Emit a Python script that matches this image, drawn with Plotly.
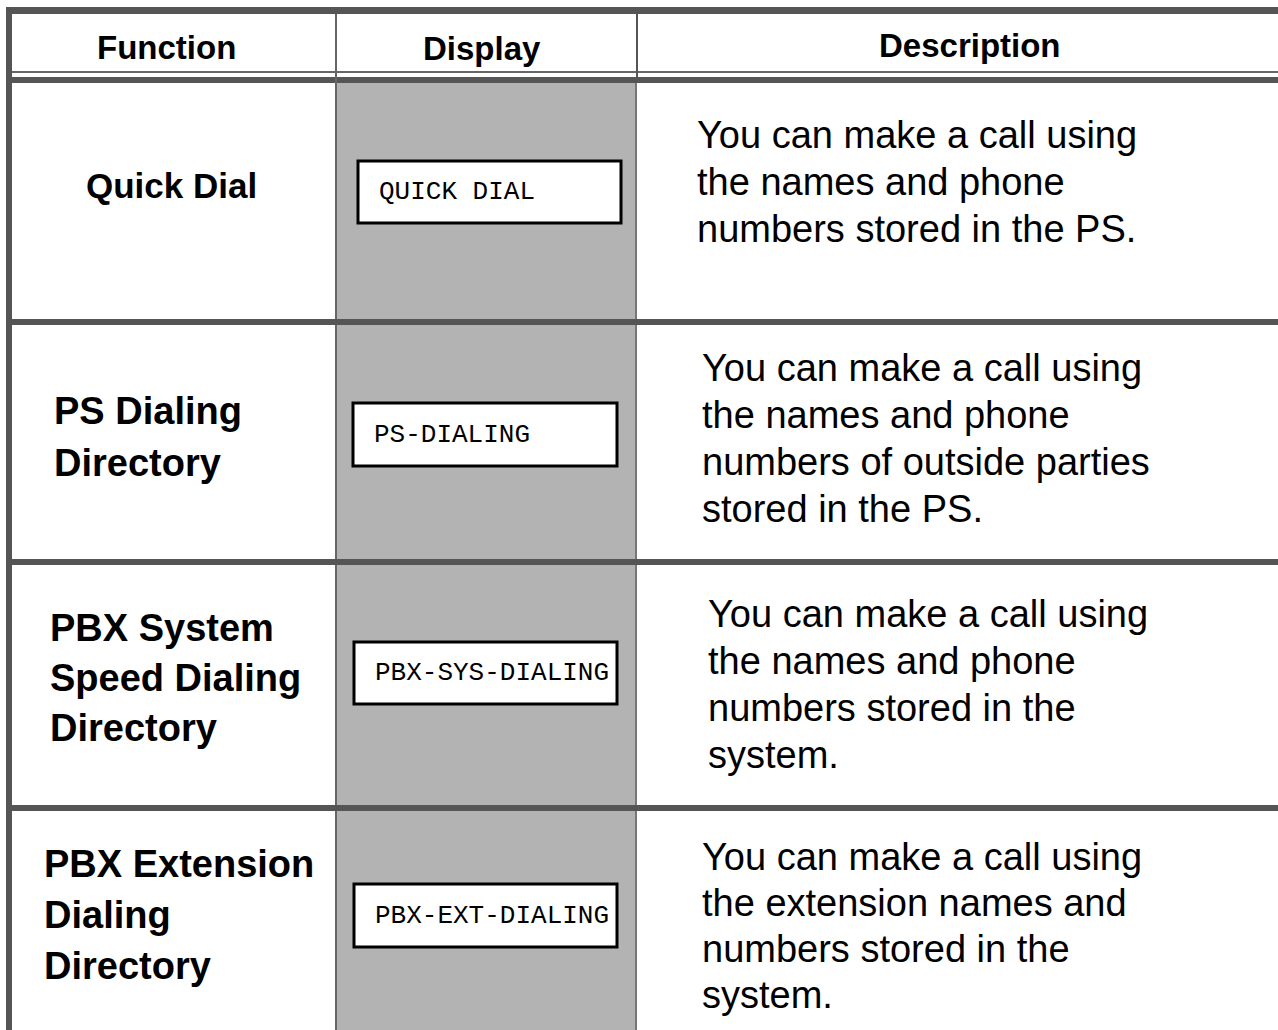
import plotly.graph_objects as go

# ---- table content ----
headers = ["Function", "Display", "Description"]
functions = [
    ["Quick Dial"],
    ["PS Dialing", "Directory"],
    ["PBX System", "Speed Dialing", "Directory"],
    ["PBX Extension", "Dialing", "Directory"],
]
displays = ["QUICK DIAL", "PS-DIALING", "PBX-SYS-DIALING", "PBX-EXT-DIALING"]
descriptions = [
    ["You can make a call using", "the names and phone", "numbers stored in the PS."],
    ["You can make a call using", "the names and phone", "numbers of outside parties", "stored in the PS."],
    ["You can make a call using", "the names and phone", "numbers stored in the", "system."],
    ["You can make a call using", "the extension names and", "numbers stored in the", "system."],
]

# ---- layout geometry (pixels) ----
W, H = 1278, 1030
DARK = "#555555"
GRAY_FILL = "#b3b3b3"
row_dividers = [(319, 325), (559, 565), (805, 811)]
func_pos = [(84, 185, 0), (52, 411, 52), (48, 628, 50), (42, 864, 51)]
func_sizes = [35, 38, 38, 38]
desc_pos = [(695, 135, 47), (700, 368, 47), (706, 614, 47), (700, 857, 46)]
box_pos = [(358, 161, 621, 223), (353, 403, 617, 466), (354, 642, 617, 704), (354, 884, 617, 947)]
header_pos = [(166, 47), (482, 48), (970, 45)]

fig = go.Figure()
shapes = []

def rect(x0, y0, x1, y1, fill, line_color=None, line_width=0, layer="below"):
    d = dict(type="rect", xref="x", yref="y", x0=x0, y0=y0, x1=x1, y1=y1,
             fillcolor=fill, layer=layer,
             line=dict(width=line_width, color=line_color or fill))
    shapes.append(d)

# gray display column
rect(337, 83, 635, H, GRAY_FILL)
# top border
rect(6, 7, W, 14, DARK)
# left border
rect(6, 7, 12, H, DARK)
# header double line
rect(12, 71, W, 73, "#666666")
rect(12, 77, W, 83, DARK)
# column dividers
rect(335, 14, 337, H, "#666666")
rect(636, 14, 638, 77, DARK)
rect(635, 83, 637, H, "#777777")
# row dividers
for y0, y1 in row_dividers:
    rect(12, y0, W, y1, DARK)
# display boxes
for (x0, y0, x1, y1) in box_pos:
    rect(x0, y0, x1, y1, "white", "black", 3, layer="above")

annotations = []
sans = "Liberation Sans, Arial, sans-serif"
mono = "Liberation Mono, Courier New, monospace"

for txt, (x, y) in zip(headers, header_pos):
    annotations.append(dict(x=x, y=y, xref="x", yref="y", text=txt, showarrow=False,
                            xanchor="center", yanchor="middle",
                            font=dict(family=sans, size=33, color="black", weight="bold")))

for lines, (x, y, dy), fs in zip(functions, func_pos, func_sizes):
    for i, ln in enumerate(lines):
        annotations.append(dict(x=x, y=y + i * dy, xref="x", yref="y", text=ln, showarrow=False,
                                xanchor="left", yanchor="middle",
                                font=dict(family=sans, size=fs, color="black", weight="bold")))

for txt, (x0, y0, x1, y1) in zip(displays, box_pos):
    annotations.append(dict(x=x0 + 19, y=(y0 + y1) / 2, xref="x", yref="y", text=txt, showarrow=False,
                            xanchor="left", yanchor="middle",
                            font=dict(family=mono, size=26, color="black")))

for lines, (x, y, dy) in zip(descriptions, desc_pos):
    for i, ln in enumerate(lines):
        annotations.append(dict(x=x, y=y + i * dy, xref="x", yref="y", text=ln, showarrow=False,
                                xanchor="left", yanchor="middle",
                                font=dict(family=sans, size=38, color="black")))

fig.update_layout(
    width=W, height=H,
    margin=dict(l=0, r=0, t=0, b=0),
    paper_bgcolor="white", plot_bgcolor="white",
    xaxis=dict(range=[0, W], visible=False, fixedrange=True),
    yaxis=dict(range=[H, 0], visible=False, fixedrange=True),
    shapes=shapes, annotations=annotations,
    showlegend=False,
)

fig.write_html(
    "out.html",
    config={"displayModeBar": False},
    post_script="document.body.style.margin='0';document.body.style.overflow='hidden';",
)
